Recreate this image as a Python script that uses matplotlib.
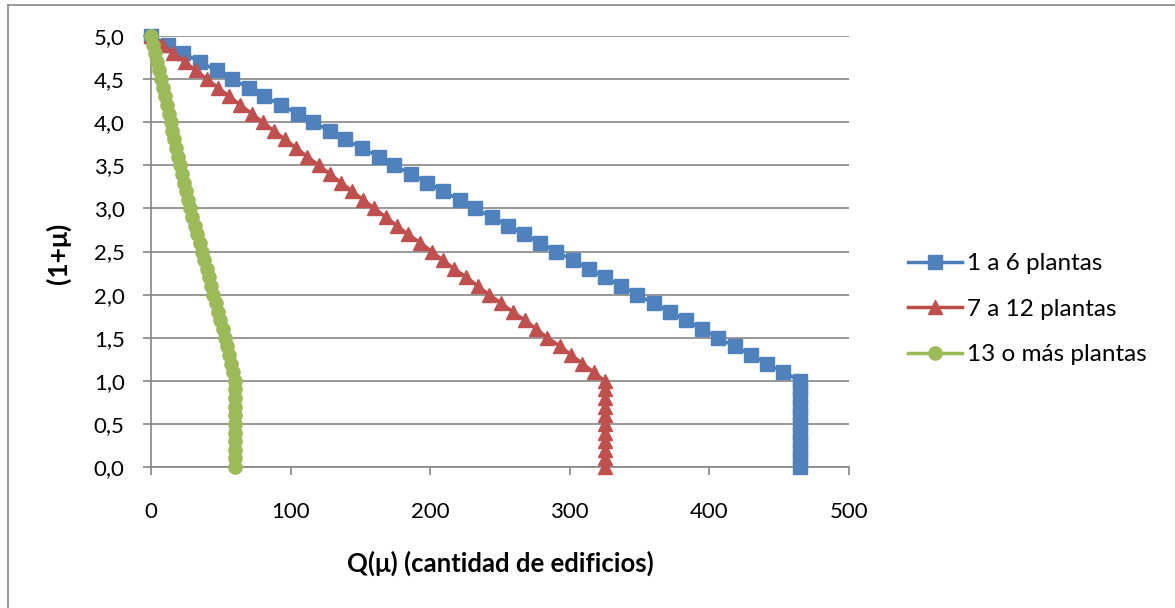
import matplotlib
matplotlib.use("Agg")
import matplotlib.pyplot as plt
from matplotlib.lines import Line2D
from matplotlib.ticker import FuncFormatter

plt.rcParams["font.family"] = ["Lato", "DejaVu Sans"]

# Eje Y: (1+mu) de 5,0 a 0,0 en pasos de 0,1
y_vals = [5.0, 4.9, 4.8, 4.7, 4.6, 4.5, 4.4, 4.3, 4.2, 4.1,
          4.0, 3.9, 3.8, 3.7, 3.6, 3.5, 3.4, 3.3, 3.2, 3.1,
          3.0, 2.9, 2.8, 2.7, 2.6, 2.5, 2.4, 2.3, 2.2, 2.1,
          2.0, 1.9, 1.8, 1.7, 1.6, 1.5, 1.4, 1.3, 1.2, 1.1,
          1.0, 0.9, 0.8, 0.7, 0.6, 0.5, 0.4, 0.3, 0.2, 0.1, 0.0]

q_1a6 = [0, 12, 23, 35, 47, 58, 70, 81, 93, 105,
         116, 128, 139, 151, 163, 174, 186, 198, 209, 221,
         232, 244, 256, 267, 279, 290, 302, 314, 325, 337,
         348, 360, 372, 383, 395, 406, 418, 430, 441, 453,
         465, 465, 465, 465, 465, 465, 465, 465, 465, 465, 465]

q_7a12 = [0, 8, 16, 24, 32, 40, 48, 56, 64, 72,
          80, 88, 96, 104, 112, 120, 128, 136, 144, 152,
          160, 168, 176, 184, 193, 201, 209, 217, 226, 234,
          242, 251, 259, 268, 276, 284, 293, 301, 309, 317,
          325, 325, 325, 325, 325, 325, 325, 325, 325, 325, 325]

q_13mas = [0, 1.4, 2.8, 4.2, 5.6, 7, 8.4, 9.8, 11.2, 12.6,
           14, 15.4, 16.8, 18.2, 19.6, 21, 22.4, 23.8, 25.2, 26.6,
           28, 29.7, 31.4, 33.1, 34.8, 36.5, 38.1, 39.8, 41.4, 43,
           44.6, 46.3, 48, 49.7, 51.4, 53, 54.6, 56, 57.3, 58.7,
           60, 60, 60, 60, 60, 60, 60, 60, 60, 60, 60]

series = [
    ("1 a 6 plantas", q_1a6, "s", 9.8, "#4A7EBB", "#4F81BD"),
    ("7 a 12 plantas", q_7a12, "^", 10.5, "#BE4B48", "#C0504D"),
    ("13 o más plantas", q_13mas, "o", 9.5, "#98B954", "#9BBB59"),
]

W, H = 1175, 608
fig = plt.figure(figsize=(W / 100, H / 100), dpi=100, facecolor="white")
ax = fig.add_axes([151 / W, 1 - 467 / H, (849 - 151) / W, (467 - 36) / H])

for nombre, xs, mk, ms, linea, relleno in series:
    ax.plot(xs, y_vals, color=linea, lw=2.5, marker=mk, markersize=ms,
            markerfacecolor=relleno, markeredgecolor=relleno,
            label=nombre, clip_on=False, zorder=3)

ax.set_xlim(0, 500)
ax.set_ylim(0, 5)
ax.set_xticks(range(0, 501, 100))
ax.set_yticks([i * 0.5 for i in range(11)])
ax.yaxis.set_major_formatter(FuncFormatter(lambda v, p: f"{v:.1f}".replace(".", ",")))

gris = "#868686"
ax.grid(axis="y", color=gris, lw=1.2, zorder=0)
ax.set_axisbelow(True)
for lado in ("top", "right"):
    ax.spines[lado].set_visible(False)
for lado in ("left", "bottom"):
    ax.spines[lado].set_color(gris)
    ax.spines[lado].set_linewidth(1.2)
ax.tick_params(axis="both", direction="out", length=6, width=1.2, color=gris,
               labelsize=16, labelcolor="black")
ax.tick_params(axis="x", pad=19)
ax.tick_params(axis="y", pad=13)

ax.set_xlabel("Q(μ) (cantidad de edificios)", fontsize=18.5, fontweight="bold")
ax.set_ylabel("(1+μ)", fontsize=19, fontweight="bold")
ax.xaxis.set_label_coords(0.5, -0.195)
ax.yaxis.set_label_coords(-0.115, 0.495)

ax.legend(loc="center left", bbox_to_anchor=(1.084, 0.366), frameon=False,
          fontsize=17.5, handlelength=2.25, labelspacing=1.0, handletextpad=0.2,
          borderaxespad=0, borderpad=0)

# Marco exterior del gráfico
fig.add_artist(Line2D([8 / W, 8 / W], [0, 1 - 5 / H], color="#878787", lw=1.2))
fig.add_artist(Line2D([8 / W, 1], [1 - 5 / H, 1 - 5 / H], color="#878787", lw=1.2))

fig.savefig("out.png", dpi=100, facecolor=fig.get_facecolor())
